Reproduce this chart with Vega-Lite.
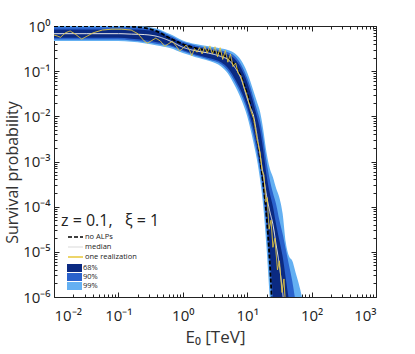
{
  "$schema": "https://vega.github.io/schema/vega-lite/v6.json",
  "width": 322,
  "height": 271,
  "autosize": {"type": "none"},
  "padding": {"left": 54, "top": 26, "right": 39, "bottom": 57},
  "background": "white",
  "config": {
    "view": {"stroke": "#222", "strokeWidth": 1},
    "font": "Open Sans",
    "axis": {"grid": false, "domainColor": "#222", "tickColor": "#222", "labelColor": "#222", "titleColor": "#333", "labelFont": "Open Sans", "titleFont": "Open Sans", "titleFontWeight": "normal"}
  },
  "datasets": {
    "bands": [
      {"E": 0.01, "lo99": 0.468, "hi99": 1.0, "lo90": 0.501, "hi90": 0.933, "lo68": 0.55, "hi68": 0.832, "med": 0.676, "noalp": 0.991},
      {"E": 0.0316, "lo99": 0.468, "hi99": 1.0, "lo90": 0.501, "hi90": 0.933, "lo68": 0.55, "hi68": 0.832, "med": 0.676, "noalp": 0.991},
      {"E": 0.1, "lo99": 0.468, "hi99": 1.0, "lo90": 0.501, "hi90": 0.933, "lo68": 0.55, "hi68": 0.832, "med": 0.676, "noalp": 0.986},
      {"E": 0.158, "lo99": 0.447, "hi99": 0.993, "lo90": 0.479, "hi90": 0.933, "lo68": 0.525, "hi68": 0.832, "med": 0.661, "noalp": 0.966},
      {"E": 0.251, "lo99": 0.417, "hi99": 0.977, "lo90": 0.447, "hi90": 0.912, "lo68": 0.49, "hi68": 0.813, "med": 0.646, "noalp": 0.912},
      {"E": 0.398, "lo99": 0.372, "hi99": 0.871, "lo90": 0.398, "hi90": 0.813, "lo68": 0.437, "hi68": 0.741, "med": 0.589, "noalp": 0.759},
      {"E": 0.631, "lo99": 0.324, "hi99": 0.661, "lo90": 0.355, "hi90": 0.617, "lo68": 0.38, "hi68": 0.562, "med": 0.468, "noalp": 0.537},
      {"E": 1.0, "lo99": 0.251, "hi99": 0.479, "lo90": 0.275, "hi90": 0.447, "lo68": 0.295, "hi68": 0.407, "med": 0.339, "noalp": 0.398},
      {"E": 1.585, "lo99": 0.204, "hi99": 0.398, "lo90": 0.219, "hi90": 0.372, "lo68": 0.234, "hi68": 0.339, "med": 0.282, "noalp": 0.324},
      {"E": 2.512, "lo99": 0.17, "hi99": 0.355, "lo90": 0.182, "hi90": 0.331, "lo68": 0.195, "hi68": 0.302, "med": 0.251, "noalp": 0.282},
      {"E": 3.981, "lo99": 0.126, "hi99": 0.316, "lo90": 0.141, "hi90": 0.288, "lo68": 0.155, "hi68": 0.263, "med": 0.209, "noalp": 0.24},
      {"E": 5.012, "lo99": 0.0891, "hi99": 0.295, "lo90": 0.102, "hi90": 0.263, "lo68": 0.117, "hi68": 0.234, "med": 0.182, "noalp": 0.2},
      {"E": 6.31, "lo99": 0.0501, "hi99": 0.251, "lo90": 0.0603, "hi90": 0.219, "lo68": 0.0708, "hi68": 0.191, "med": 0.126, "noalp": 0.141},
      {"E": 7.943, "lo99": 0.0251, "hi99": 0.178, "lo90": 0.0316, "hi90": 0.145, "lo68": 0.038, "hi68": 0.12, "med": 0.0708, "noalp": 0.0794},
      {"E": 10.0, "lo99": 0.01, "hi99": 0.0933, "lo90": 0.0132, "hi90": 0.0708, "lo68": 0.0166, "hi68": 0.0562, "med": 0.0251, "noalp": 0.0316},
      {"E": 11.22, "lo99": 0.00525, "hi99": 0.0589, "lo90": 0.00708, "hi90": 0.0447, "lo68": 0.00933, "hi68": 0.0339, "med": 0.0158, "noalp": 0.0178},
      {"E": 12.59, "lo99": 0.00251, "hi99": 0.0355, "lo90": 0.00355, "hi90": 0.0251, "lo68": 0.00501, "hi68": 0.0191, "med": 0.01, "noalp": 0.00891},
      {"E": 14.13, "lo99": 0.00112, "hi99": 0.0214, "lo90": 0.00158, "hi90": 0.0141, "lo68": 0.00224, "hi68": 0.01, "med": 0.00398, "noalp": 0.00355},
      {"E": 15.85, "lo99": 0.000398, "hi99": 0.0126, "lo90": 0.000631, "hi90": 0.00794, "lo68": 0.000891, "hi68": 0.00501, "med": 0.00141, "noalp": 0.00112},
      {"E": 17.78, "lo99": 0.0001, "hi99": 0.00501, "lo90": 0.000178, "hi90": 0.00316, "lo68": 0.000282, "hi68": 0.00178, "med": 0.000501, "noalp": 0.000316},
      {"E": 19.95, "lo99": 1.26e-5, "hi99": 0.00158, "lo90": 3.16e-5, "hi90": 0.001, "lo68": 6.31e-5, "hi68": 0.000501, "med": 0.000178, "noalp": 6.31e-5},
      {"E": 22.39, "lo99": 1e-6, "hi99": 0.000708, "lo90": 3.16e-6, "hi90": 0.000398, "lo68": 1e-5, "hi68": 0.0002, "med": 7.94e-5, "noalp": 6.31e-6},
      {"E": 25.12, "lo99": 1e-7, "hi99": 0.000447, "lo90": 3.16e-7, "hi90": 0.0002, "lo68": 1e-6, "hi68": 0.0001, "med": 3.98e-5, "noalp": 2.51e-7},
      {"E": 28.18, "lo99": 1e-8, "hi99": 0.000251, "lo90": 1e-8, "hi90": 0.000112, "lo68": 1e-7, "hi68": 3.98e-5, "med": 1.41e-5, "noalp": 1e-8},
      {"E": 31.62, "lo99": 1e-8, "hi99": 0.000158, "lo90": 1e-8, "hi90": 5.01e-5, "lo68": 1e-8, "hi68": 1.78e-5, "med": 5.01e-6, "noalp": 1e-8},
      {"E": 35.48, "lo99": 1e-8, "hi99": 7.08e-5, "lo90": 1e-8, "hi90": 2.51e-5, "lo68": 1e-8, "hi68": 7.94e-6, "med": 1.26e-6, "noalp": 1e-8},
      {"E": 39.81, "lo99": 1e-8, "hi99": 1.58e-5, "lo90": 1e-8, "hi90": 1.12e-5, "lo68": 1e-8, "hi68": 2.51e-6, "med": 3.16e-7, "noalp": 1e-8},
      {"E": 44.67, "lo99": 1e-8, "hi99": 7.94e-6, "lo90": 1e-8, "hi90": 5.01e-6, "lo68": 1e-8, "hi68": 7.94e-7, "med": 1e-7, "noalp": 1e-8},
      {"E": 50.12, "lo99": 1e-8, "hi99": 6.31e-6, "lo90": 1e-8, "hi90": 2.24e-6, "lo68": 1e-8, "hi68": 2.51e-7, "med": 1e-8, "noalp": 1e-8},
      {"E": 56.23, "lo99": 1e-8, "hi99": 3.55e-6, "lo90": 1e-8, "hi90": 7.94e-7, "lo68": 1e-8, "hi68": 1e-7, "med": 1e-8, "noalp": 1e-8},
      {"E": 63.1, "lo99": 1e-8, "hi99": 2.0e-6, "lo90": 1e-8, "hi90": 2.51e-7, "lo68": 1e-8, "hi68": 1e-8, "med": 1e-8, "noalp": 1e-8},
      {"E": 70.79, "lo99": 1e-8, "hi99": 1e-6, "lo90": 1e-8, "hi90": 1e-7, "lo68": 1e-8, "hi68": 1e-8, "med": 1e-8, "noalp": 1e-8},
      {"E": 79.43, "lo99": 1e-8, "hi99": 3.98e-7, "lo90": 1e-8, "hi90": 1e-8, "lo68": 1e-8, "hi68": 1e-8, "med": 1e-8, "noalp": 1e-8},
      {"E": 89.13, "lo99": 1e-8, "hi99": 1e-8, "lo90": 1e-8, "hi90": 1e-8, "lo68": 1e-8, "hi68": 1e-8, "med": 1e-8, "noalp": 1e-8}
    ],
    "real": [
      {"E": 0.01, "P": 0.631}, {"E": 0.0112, "P": 0.603}, {"E": 0.0126, "P": 0.562}, {"E": 0.0151, "P": 0.708},
      {"E": 0.0178, "P": 0.776}, {"E": 0.0214, "P": 0.661}, {"E": 0.0269, "P": 0.513}, {"E": 0.0331, "P": 0.603},
      {"E": 0.0407, "P": 0.708}, {"E": 0.0562, "P": 0.813}, {"E": 0.0794, "P": 0.851}, {"E": 0.112, "P": 0.851},
      {"E": 0.158, "P": 0.813}, {"E": 0.2, "P": 0.676}, {"E": 0.251, "P": 0.468}, {"E": 0.282, "P": 0.417},
      {"E": 0.331, "P": 0.479}, {"E": 0.38, "P": 0.537}, {"E": 0.447, "P": 0.468}, {"E": 0.525, "P": 0.355},
      {"E": 0.603, "P": 0.407}, {"E": 0.692, "P": 0.457}, {"E": 0.794, "P": 0.355}, {"E": 0.891, "P": 0.282},
      {"E": 1.0, "P": 0.316}, {"E": 1.122, "P": 0.38}, {"E": 1.259, "P": 0.302}, {"E": 1.38, "P": 0.219},
      {"E": 1.514, "P": 0.316}, {"E": 1.66, "P": 0.263}, {"E": 1.82, "P": 0.331}, {"E": 1.995, "P": 0.24},
      {"E": 2.188, "P": 0.355}, {"E": 2.399, "P": 0.251}, {"E": 2.63, "P": 0.363}, {"E": 2.884, "P": 0.24},
      {"E": 3.162, "P": 0.347}, {"E": 3.467, "P": 0.209}, {"E": 3.802, "P": 0.331}, {"E": 4.169, "P": 0.182},
      {"E": 4.571, "P": 0.288}, {"E": 5.012, "P": 0.158}, {"E": 5.495, "P": 0.24}, {"E": 6.026, "P": 0.126},
      {"E": 6.607, "P": 0.151}, {"E": 7.244, "P": 0.0891}, {"E": 7.943, "P": 0.0794}, {"E": 8.913, "P": 0.0447},
      {"E": 10.0, "P": 0.0282}, {"E": 11.22, "P": 0.0141}, {"E": 12.59, "P": 0.00891}, {"E": 14.13, "P": 0.00316},
      {"E": 15.85, "P": 0.00158}, {"E": 16.98, "P": 0.000631}, {"E": 18.2, "P": 0.000501}, {"E": 19.5, "P": 0.000126},
      {"E": 20.42, "P": 0.000158}, {"E": 21.88, "P": 3.16e-5}, {"E": 23.44, "P": 5.01e-5}, {"E": 25.12, "P": 1.26e-5},
      {"E": 26.92, "P": 2.0e-5}, {"E": 29.51, "P": 3.98e-6}, {"E": 31.62, "P": 6.31e-6}, {"E": 34.67, "P": 1.26e-6},
      {"E": 37.15, "P": 2.51e-6}, {"E": 39.81, "P": 5.01e-7}, {"E": 41.69, "P": 1e-7}
    ]
  },
  "resolve": {"axis": {"x": "independent", "y": "independent"}},
  "layer": [
    {
      "data": {"name": "bands"},
      "mark": {"type": "area", "clip": true, "interpolate": "monotone"},
      "encoding": {
        "x": {"field": "E", "type": "quantitative", "scale": {"type": "log", "domain": [0.01, 1000]},
          "axis": {"orient": "bottom", "title": "E₀ [TeV]", "titleFontSize": 17, "titlePadding": 6, "labelFontSize": 15, "labelPadding": 16, "domain": false,
            "values": [0.01,0.02,0.03,0.04,0.05,0.06,0.07,0.08,0.09,0.1,0.2,0.3,0.4,0.5,0.6,0.7,0.8,0.9,1,2,3,4,5,6,7,8,9,10,20,30,40,50,60,70,80,90,100,200,300,400,500,600,700,800,900,1000],
            "labelExpr": "abs(log(datum.value)/LN10 - round(log(datum.value)/LN10)) < 0.001 ? ['10⁻²','10⁻¹','10⁰','10¹','10²','10³'][round(log(datum.value)/LN10)+2] : ''",
            "tickSize": {"condition": {"test": "abs(log(datum.value)/LN10 - round(log(datum.value)/LN10)) < 0.001", "value": -5}, "value": -3}}},
        "y": {"field": "lo99", "type": "quantitative", "scale": {"type": "log", "domain": [1e-6, 1]},
          "axis": {"orient": "left", "title": "Survival probability", "titleFontSize": 16, "titlePadding": 2, "titleY": 146, "labelFontSize": 15, "labelPadding": 9, "domain": false,
            "values": [1e-6,2e-6,3e-6,4e-6,5e-6,6e-6,7e-6,8e-6,9e-6,1e-5,2e-5,3e-5,4e-5,5e-5,6e-5,7e-5,8e-5,9e-5,1e-4,2e-4,3e-4,4e-4,5e-4,6e-4,7e-4,8e-4,9e-4,1e-3,2e-3,3e-3,4e-3,5e-3,6e-3,7e-3,8e-3,9e-3,0.01,0.02,0.03,0.04,0.05,0.06,0.07,0.08,0.09,0.1,0.2,0.3,0.4,0.5,0.6,0.7,0.8,0.9,1],
            "labelExpr": "abs(log(datum.value)/LN10 - round(log(datum.value)/LN10)) < 0.001 ? ['10⁻⁶','10⁻⁵','10⁻⁴','10⁻³','10⁻²','10⁻¹','10⁰'][round(log(datum.value)/LN10)+6] : ''",
            "tickSize": {"condition": {"test": "abs(log(datum.value)/LN10 - round(log(datum.value)/LN10)) < 0.001", "value": -5}, "value": -3}}},
        "y2": {"field": "hi99"},
        "fill": {"datum": "99%", "type": "nominal",
          "scale": {"domain": ["68%", "90%", "99%"], "range": ["#0b2a82", "#2a62cc", "#64b0f2"]},
          "legend": {"orient": "none", "legendX": 7, "legendY": 237, "title": null, "labelFontSize": 7.5, "labelColor": "#222",
            "symbolType": "M0.2,-0.8H3.2V0.8H0.2Z", "symbolSize": 100, "symbolStrokeWidth": 0, "rowPadding": 0, "labelOffset": 12, "padding": 0}}
      }
    },
    {
      "data": {"name": "bands"},
      "mark": {"type": "area", "clip": true, "interpolate": "monotone"},
      "encoding": {
        "x": {"field": "E", "type": "quantitative", "scale": {"type": "log", "domain": [0.01, 1000]},
          "axis": {"orient": "top", "title": null, "labels": false, "domain": false,
            "values": [0.01,0.02,0.03,0.04,0.05,0.06,0.07,0.08,0.09,0.1,0.2,0.3,0.4,0.5,0.6,0.7,0.8,0.9,1,2,3,4,5,6,7,8,9,10,20,30,40,50,60,70,80,90,100,200,300,400,500,600,700,800,900,1000],
            "tickSize": {"condition": {"test": "abs(log(datum.value)/LN10 - round(log(datum.value)/LN10)) < 0.001", "value": -5}, "value": -3}}},
        "y": {"field": "lo90", "type": "quantitative", "scale": {"type": "log", "domain": [1e-6, 1]},
          "axis": {"orient": "right", "title": null, "labels": false, "domain": false,
            "values": [1e-6,2e-6,3e-6,4e-6,5e-6,6e-6,7e-6,8e-6,9e-6,1e-5,2e-5,3e-5,4e-5,5e-5,6e-5,7e-5,8e-5,9e-5,1e-4,2e-4,3e-4,4e-4,5e-4,6e-4,7e-4,8e-4,9e-4,1e-3,2e-3,3e-3,4e-3,5e-3,6e-3,7e-3,8e-3,9e-3,0.01,0.02,0.03,0.04,0.05,0.06,0.07,0.08,0.09,0.1,0.2,0.3,0.4,0.5,0.6,0.7,0.8,0.9,1],
            "tickSize": {"condition": {"test": "abs(log(datum.value)/LN10 - round(log(datum.value)/LN10)) < 0.001", "value": -5}, "value": -3}}},
        "y2": {"field": "hi90"},
        "fill": {"datum": "90%", "type": "nominal"}
      }
    },
    {
      "data": {"name": "bands"},
      "mark": {"type": "area", "clip": true, "interpolate": "monotone"},
      "encoding": {
        "x": {"field": "E", "type": "quantitative", "axis": null},
        "y": {"field": "lo68", "type": "quantitative", "axis": null},
        "y2": {"field": "hi68"},
        "fill": {"datum": "68%", "type": "nominal"}
      }
    },
    {
      "data": {"name": "bands"},
      "mark": {"type": "line", "clip": true, "strokeWidth": 1.8, "interpolate": "monotone"},
      "encoding": {
        "x": {"field": "E", "type": "quantitative", "axis": null},
        "y": {"field": "noalp", "type": "quantitative", "axis": null},
        "stroke": {"datum": "no ALPs", "type": "nominal",
          "scale": {"domain": ["no ALPs", "median", "one realization"], "range": ["#000000", "#e6e6e6", "#e8c83a"]},
          "legend": {"orient": "none", "legendX": 7, "legendY": 187, "title": "z = 0.1,\u00a0\u00a0\u00a0ξ = 1", "titleFontSize": 16, "titleFont": "Open Sans", "titleFontWeight": "normal", "titleColor": "#222", "titlePadding": 2,
            "labelFontSize": 7.5, "labelColor": "#222", "symbolType": "M0.2,0H3.2", "symbolSize": 100, "symbolStrokeWidth": 1.6, "rowPadding": 0, "labelOffset": 12, "padding": 0}},
        "strokeDash": {"datum": "no ALPs", "type": "nominal",
          "scale": {"domain": ["no ALPs", "median", "one realization"], "range": [[4, 2], [1, 0], [1, 0]]}}
      }
    },
    {
      "data": {"name": "bands"},
      "mark": {"type": "line", "clip": true, "strokeWidth": 1, "interpolate": "monotone"},
      "encoding": {
        "x": {"field": "E", "type": "quantitative", "axis": null},
        "y": {"field": "med", "type": "quantitative", "axis": null},
        "stroke": {"datum": "median", "type": "nominal"},
        "strokeDash": {"datum": "median", "type": "nominal"}
      }
    },
    {
      "data": {"name": "real"},
      "mark": {"type": "line", "clip": true, "strokeWidth": 1},
      "encoding": {
        "x": {"field": "E", "type": "quantitative", "axis": null},
        "y": {"field": "P", "type": "quantitative", "axis": null},
        "stroke": {"datum": "one realization", "type": "nominal"},
        "strokeDash": {"datum": "one realization", "type": "nominal"}
      }
    }
  ]
}
